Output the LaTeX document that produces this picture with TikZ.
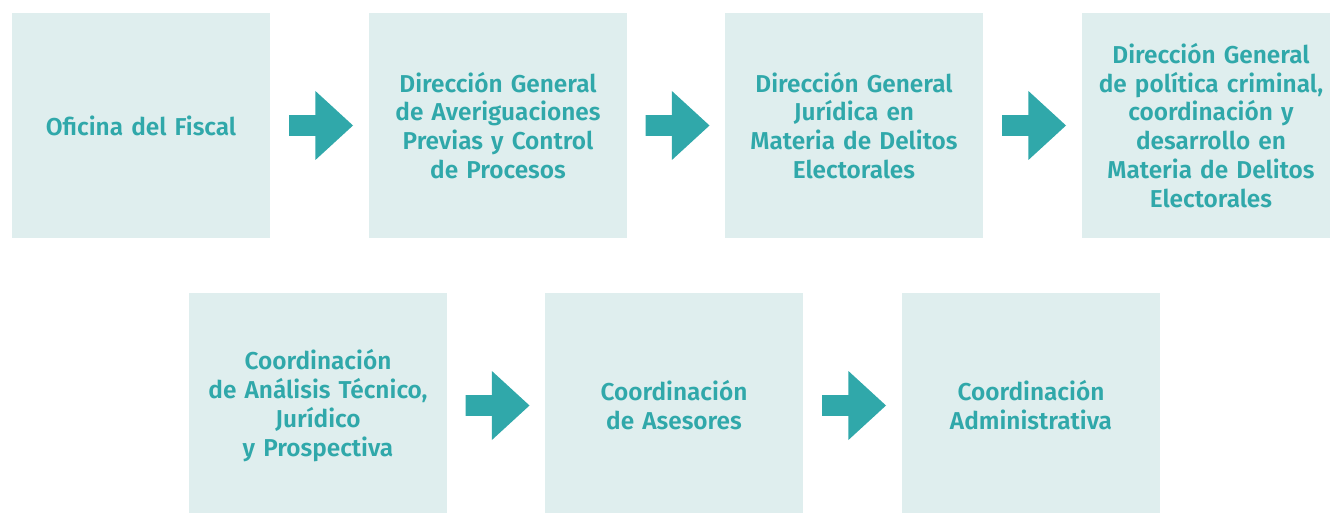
\documentclass[tikz,border=0pt]{standalone}
\usepackage{fontspec}
\setmainfont{Fira Sans}[BoldFont={Fira Sans SemiBold}]
\definecolor{fondo}{RGB}{223, 238, 238}
\definecolor{turquesa}{RGB}{48, 168, 170}
\usetikzlibrary{calc}

% bloque de flecha entre dos cajas
\newcommand{\flecha}[2]{%
  \fill[turquesa] ($(#1.east)!0.5!(#2.west)+(-30.5pt,-10.35pt)$) -- ++(26.4pt,0) -- ++(0,-24.15pt)
    -- ++(37.6pt,34.5pt) -- ++(-37.6pt,34.5pt) -- ++(0,-24.15pt) -- ++(-26.4pt,0) -- cycle;}

\begin{document}
\begin{tikzpicture}[
  x=1pt, y=1pt,
  caja/.style={fill=fondo, minimum width=258pt, minimum height=225pt, text width=240pt, align=center, inner sep=0pt, text=turquesa, font=\fontsize{24.4}{28.8}\selectfont\bfseries}
]
  \useasboundingbox (0,0) rectangle (1330,512);
  \clip (0,0) rectangle (1330,512);
  % fila superior
  \node[caja] (fiscal) at (141, 386.5) {Oficina del Fiscal};
  \node[caja] (averig) at (498, 386.5) {Dirección General\\ de Averiguaciones\\ Previas y Control\\ de Procesos};
  \node[caja] (juridica) at (854, 386.5) {Dirección General\\ Jurídica en\\ Materia de Delitos\\ Electorales};
  \node[caja] (politica) at (1211, 386.5) {Dirección General\\ de política criminal,\\ coordinación y\\ desarrollo en\\ Materia de Delitos\\ Electorales};
  % fila inferior
  \node[caja] (analisis) at (318, 106.5) {Coordinación\\ de Análisis Técnico,\\ Jurídico\\ y Prospectiva};
  \node[caja] (asesores) at (674, 106.5) {Coordinación\\ de Asesores};
  \node[caja] (admin) at (1031, 106.5) {Coordinación\\ Administrativa};
  % flechas
  \flecha{fiscal}{averig}
  \flecha{averig}{juridica}
  \flecha{juridica}{politica}
  \flecha{analisis}{asesores}
  \flecha{asesores}{admin}
\end{tikzpicture}
\end{document}
